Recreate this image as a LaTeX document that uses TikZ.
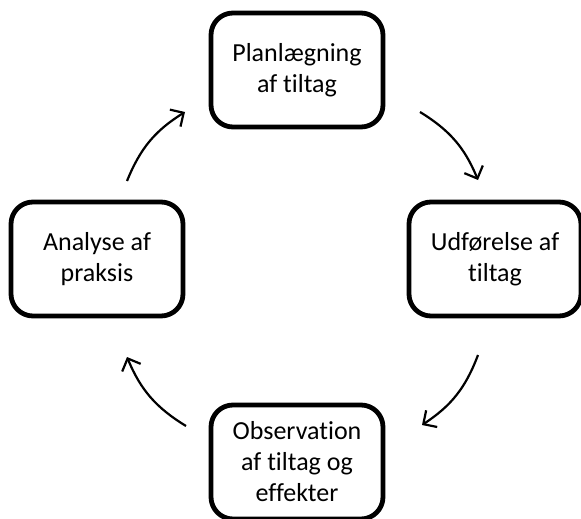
\documentclass[tikz,border=0pt]{standalone}
\usepackage{fontspec}
\setmainfont[Ligatures=NoCommon]{Carlito}
\usetikzlibrary{arrows.meta}
\tikzset{every picture/.style={line width=0.75pt}}
\tikzset{
  trin/.style={draw,line width=4.8pt,rounded corners=22pt,minimum width=172pt,minimum height=114pt,
    align=center,font=\fontsize{26}{31}\selectfont,inner sep=0pt},
  pil/.style={line width=2.2pt,-{Straight Barb[length=10pt,width=20pt,line width=2.2pt]},bend left=18},
}
\begin{document}
\begin{tikzpicture}[x=1pt,y=-1pt]
				\clip (0,0) rectangle (581,519); %ramme
				\node[trin] (plan) at (297,70) {Planlægning\\af tiltag};
				\node[trin] (udf) at (495,259) {Udførelse af\\tiltag};
				\node[trin] (obs) at (297,462) {Observation\\af tiltag og\\effekter};
				\node[trin] (ana) at (97,259) {Analyse af\\praksis};
				\coordinate (p1) at (127,181); \coordinate (p2) at (185,112); %ana -> plan
				\coordinate (p3) at (420,112); \coordinate (p4) at (478,180); %plan -> udf
				\coordinate (p5) at (478,355); \coordinate (p6) at (422,425); %udf -> obs
				\coordinate (p7) at (186,426); \coordinate (p8) at (127,357); %obs -> ana
				\draw[pil] (p1) to (p2);
				\draw[pil] (p3) to (p4);
				\draw[pil] (p5) to (p6);
				\draw[pil] (p7) to (p8);
			\end{tikzpicture}
\end{document}
